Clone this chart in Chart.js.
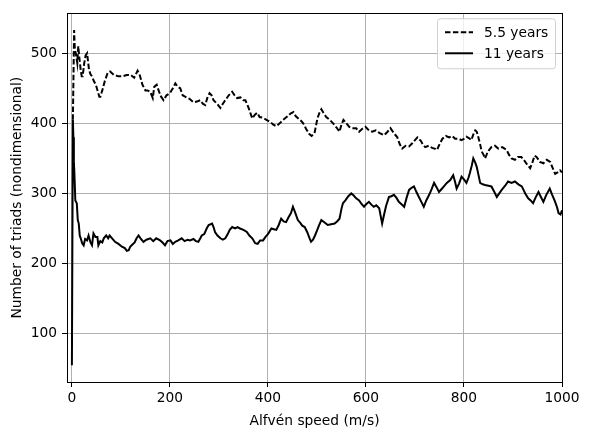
<!DOCTYPE html>
<html>
<head>
<meta charset="utf-8">
<script src="https://cdn.jsdelivr.net/npm/chart.js@4.4.1/dist/chart.umd.min.js"></script>
<style>
  html, body { margin: 0; padding: 0; background: #fff; }
  #wrap { width: 589px; height: 436px; }
</style>
</head>
<body>
<div id="wrap"><canvas id="triads" width="589" height="436"></canvas></div>
<script>
// values
const shortX = [2, 4.5, 6, 8, 11, 13, 15, 18, 20, 22, 25, 28, 31, 35, 38, 41, 45, 49, 53, 56, 58, 62, 67, 73, 78, 86, 95, 103, 112, 120, 127, 134, 138, 144, 150, 154, 160, 165, 168, 173, 178, 182, 187, 193, 200, 206, 211, 216, 221, 226, 231, 240, 248, 255, 262, 267, 272, 277, 281, 285, 289, 296, 303, 308, 313, 320, 327, 332, 337, 344, 350, 354, 360, 364, 368, 373, 378, 383, 390, 397, 405, 411, 417, 424, 431, 440, 446, 452, 457, 462, 467, 472, 478, 484, 489, 495, 501, 505, 509, 514, 519, 526, 533, 540, 546, 550, 554, 560, 566, 572, 580, 586, 592, 599, 606, 613, 620, 628, 637, 644, 650, 657, 664, 669, 674, 681, 688, 695, 700, 705, 712, 716, 721, 728, 735, 740, 745, 750, 756, 763, 770, 776, 782, 789, 795, 800, 805, 810, 815, 820, 823, 826, 829, 833, 836, 840, 843, 849, 856, 863, 870, 878, 887, 892, 897, 904, 910, 917, 922, 928, 935, 940, 944, 948, 955, 962, 969, 976, 980, 986, 991, 996, 1000];
const shortY = [405, 533, 505, 500, 486, 510, 495, 476, 467, 467, 485, 497, 500, 476, 470, 467, 460, 455, 445, 438, 438, 447, 460, 472, 474, 469, 467, 467, 469, 469, 465, 475, 470, 455, 447, 447, 445, 436, 452, 455, 445, 438, 433, 440, 443, 450, 457, 452, 450, 440, 438, 435, 430, 431, 433, 428, 426, 438, 443, 440, 433, 428, 422, 428, 433, 440, 445, 440, 436, 437, 433, 433, 423, 415, 407, 412, 415, 409, 408, 405, 402, 398, 396, 400, 405, 410, 414, 416, 410, 407, 404, 400, 392, 385, 382, 386, 407, 415, 420, 414, 409, 405, 400, 394, 388, 398, 405, 400, 395, 393, 393, 388, 392, 395, 390, 388, 390, 386, 383, 388, 393, 386, 380, 370, 364, 368, 367, 372, 376, 380, 375, 370, 366, 368, 365, 364, 362, 370, 378, 382, 380, 382, 378, 378, 376, 378, 381, 379, 376, 386, 390, 388, 381, 370, 360, 355, 350, 360, 366, 368, 364, 366, 362, 355, 350, 348, 352, 352, 348, 342, 336, 345, 354, 352, 345, 343, 348, 345, 338, 328, 330, 333, 330];

const longX = [0, 2, 3, 4, 5, 7, 10, 12, 14, 16, 18, 21, 24, 27, 31, 34, 38, 41, 44, 48, 52, 54, 58, 62, 65, 70, 74, 77, 82, 88, 95, 102, 108, 112, 116, 119, 122, 128, 132, 136, 140, 146, 152, 160, 166, 172, 180, 185, 190, 195, 201, 206, 211, 217, 224, 230, 236, 241, 248, 253, 258, 262, 265, 270, 275, 279, 283, 286, 289, 292, 297, 303, 308, 313, 318, 322, 327, 333, 338, 343, 350, 357, 362, 368, 374, 379, 384, 390, 395, 400, 407, 412, 417, 422, 427, 432, 437, 442, 447, 451, 456, 461, 466, 470, 475, 480, 485, 488, 492, 496, 499, 504, 509, 515, 522, 529, 536, 541, 546, 550, 553, 558, 564, 570, 575, 580, 586, 591, 596, 601, 606, 611, 616, 621, 627, 630, 633, 637, 641, 647, 652, 657, 662, 667, 672, 678, 683, 688, 693, 698, 703, 708, 713, 718, 723, 729, 734, 739, 744, 749, 754, 759, 765, 772, 778, 782, 785, 790, 795, 800, 805, 809, 812, 816, 819, 823, 826, 830, 833, 838, 843, 850, 856, 862, 867, 872, 877, 884, 890, 897, 904, 911, 918, 925, 931, 936, 941, 946, 952, 957, 962, 968, 975, 980, 986, 990, 993, 997, 1000];
const longY = [55, 405, 380, 345, 330, 290, 286, 262, 257, 240, 236, 229, 226, 235, 233, 240, 230, 226, 243, 238, 238, 226, 232, 230, 236, 240, 236, 240, 236, 231, 228, 224, 222, 218, 219, 224, 226, 230, 236, 240, 236, 231, 234, 236, 232, 236, 233, 230, 226, 232, 233, 228, 231, 233, 236, 232, 234, 233, 235, 232, 231, 236, 240, 242, 250, 255, 256, 257, 252, 245, 240, 236, 234, 236, 242, 248, 252, 250, 252, 250, 248, 245, 240, 236, 229, 228, 233, 233, 238, 242, 250, 249, 248, 255, 264, 260, 259, 266, 272, 281, 272, 262, 258, 254, 252, 245, 236, 231, 234, 240, 245, 254, 262, 259, 255, 256, 257, 260, 264, 278, 286, 290, 296, 300, 297, 293, 290, 285, 281, 285, 288, 284, 281, 283, 279, 268, 257, 270, 282, 295, 296, 298, 294, 288, 285, 281, 294, 305, 308, 310, 302, 295, 288, 281, 290, 298, 306, 315, 309, 302, 306, 310, 315, 319, 326, 316, 307, 314, 324, 320, 315, 322, 329, 340, 350, 344, 338, 325, 315, 313, 312, 311, 310, 302, 295, 300, 305, 311, 317, 315, 317, 313, 310, 300, 293, 290, 286, 294, 302, 295, 288, 298, 307, 298, 288, 280, 272, 270, 276];

const seriesNames = ['5.5 years', '11 years'];
const xTicks = [0, 200, 400, 600, 800, 1000];
const yTicks = [100, 200, 300, 400, 500];

const FONT = 'DejaVu Sans';
const FSIZE = 13.8;

// matplotlib-ish frame round the axes
const framePlugin = {
    id: 'frame',
    afterDatasetsDraw(chart) {
        const { ctx, chartArea: a } = chart;
        ctx.save();
        ctx.strokeStyle = '#000';
        ctx.lineWidth = 1;
        ctx.strokeRect(Math.round(a.left) + 0.5, Math.round(a.top) + 0.5,
            Math.round(a.right - a.left), Math.round(a.bottom - a.top));
        ctx.restore();
    }
};

// legend box, upper right
const legendPlugin = {
    id: 'mplLegend',
    afterDraw(chart) {
        const { ctx, chartArea: a } = chart;
        const w = 118, h = 50;
        const x0 = a.right - 7 - w, y0 = a.top + 5;
        ctx.save();
        ctx.fillStyle = 'rgba(255,255,255,0.8)';
        ctx.strokeStyle = '#d0d0d0';
        ctx.lineWidth = 1;
        ctx.beginPath();
        ctx.roundRect(x0 + 0.5, y0 + 0.5, w, h, 3);
        ctx.fill();
        ctx.stroke();
        ctx.font = FSIZE + 'px ' + FONT;
        ctx.textBaseline = 'middle';
        chart.data.datasets.forEach((ds, i) => {
            const cy = y0 + 14 + i * 21;
            ctx.strokeStyle = ds.borderColor;
            ctx.lineWidth = ds.borderWidth;
            ctx.setLineDash(ds.borderDash || []);
            ctx.beginPath();
            ctx.moveTo(x0 + 8, cy);
            ctx.lineTo(x0 + 36, cy);
            ctx.stroke();
            ctx.setLineDash([]);
            ctx.fillStyle = '#000';
            ctx.fillText(ds.label, x0 + 47, cy + 1);
        });
        ctx.restore();
    }
};

const toPoints = (xs, ys) => xs.map((x, i) => ({ x: x, y: ys[i] }));
const plain = v => String(v);

new Chart(document.getElementById('triads'), {
    type: 'line',
    data: {
        datasets: [
            { label: seriesNames[0], data: toPoints(shortX, shortY), borderColor: '#000', borderWidth: 2, borderDash: [5.5, 2.4], pointRadius: 0, tension: 0, fill: false },
            { label: seriesNames[1], data: toPoints(longX, longY), borderColor: '#000', borderWidth: 2, pointRadius: 0, tension: 0, fill: false }
        ]
    },
    options: {
        responsive: false,
        animation: false,
        layout: { padding: { left: 0, right: 27, top: 13, bottom: 0 } },
        plugins: { legend: { display: false }, tooltip: { enabled: false } },
        scales: {
            x: {
                type: 'linear',
                min: -10,
                max: 1000,
                afterBuildTicks: s => { s.ticks = xTicks.map(v => ({ value: v })); },
                afterFit: s => { s.height = 54; },
                grid: { color: '#b0b0b0', lineWidth: 1, tickColor: '#000', tickLength: 5, tickWidth: 1 },
                border: { display: false },
                ticks: { color: '#000', font: { family: FONT, size: FSIZE }, padding: 3, maxRotation: 0, callback: plain },
                title: { display: true, text: 'Alfvén speed (m/s)', color: '#000', font: { family: FONT, size: FSIZE }, padding: { top: 0, bottom: 6 } }
            },
            y: {
                min: 31,
                max: 557,
                afterBuildTicks: s => { s.ticks = yTicks.map(v => ({ value: v })); },
                afterFit: s => { s.width = 67; },
                grid: { color: '#b0b0b0', lineWidth: 1, tickColor: '#000', tickLength: 5, tickWidth: 1 },
                border: { display: false },
                ticks: { color: '#000', font: { family: FONT, size: FSIZE }, padding: 5, callback: plain },
                title: { display: true, text: 'Number of triads (nondimensional)', color: '#000', font: { family: FONT, size: FSIZE }, padding: { top: 9, bottom: 0 } }
            }
        }
    },
    plugins: [framePlugin, legendPlugin]
});
</script>
</body>
</html>
